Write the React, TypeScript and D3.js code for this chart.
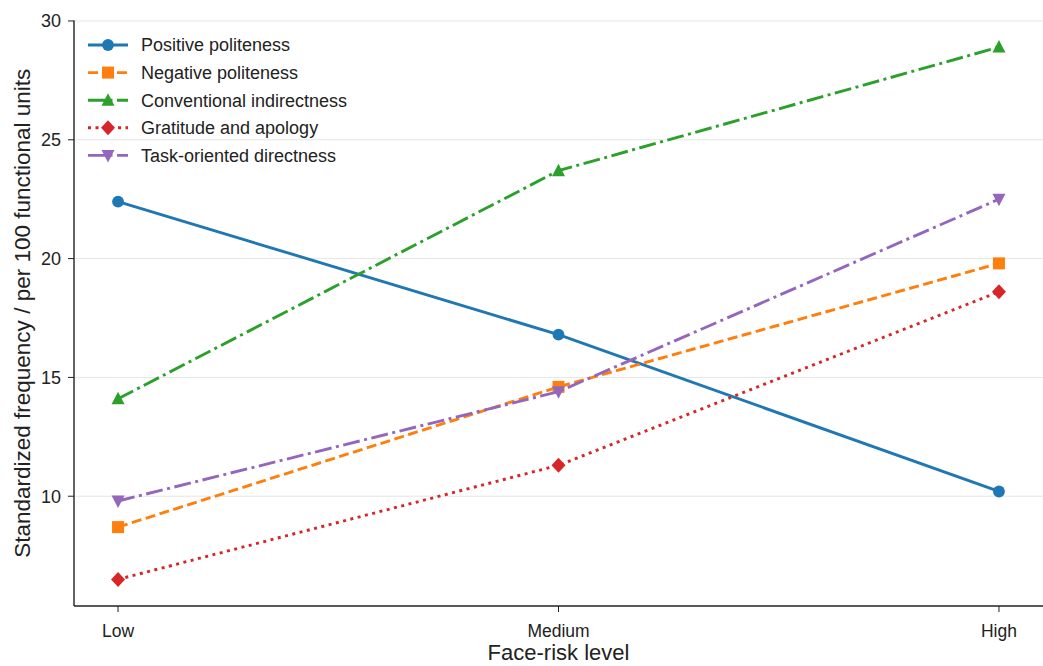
import React from 'react';
import * as d3 from 'd3';

const levels = ['Low', 'Medium', 'High'];
const positive = [22.4, 16.8, 10.2];
const negative = [8.7, 14.6, 19.8];
const conventional = [14.1, 23.7, 28.9];
const gratitude = [6.5, 11.3, 18.6];
const task = [9.8, 14.4, 22.5];
const yTicks = [10, 15, 20, 25, 30];

const series = [
  { name: 'Positive politeness', values: positive, color: '#1f77b4', dash: '', marker: 'circle' },
  { name: 'Negative politeness', values: negative, color: '#ff7f0e', dash: '10,4.5', marker: 'square' },
  { name: 'Conventional indirectness', values: conventional, color: '#2ca02c', dash: '17,4.5,3,4.5', marker: 'triangle' },
  { name: 'Gratitude and apology', values: gratitude, color: '#d62728', dash: '3,4.5', marker: 'diamond' },
  { name: 'Task-oriented directness', values: task, color: '#9467bd', dash: '17,4.5,3,4.5', marker: 'triangleDown' },
];

const W = 1043;
const H = 666;
const left = 74;
const right = 1043;
const top = 20.5;
const bottom = 606;

// marker shape at (0,0)
const markerPath = (type: string) => {
  if (type === 'circle') return d3.symbol(d3.symbolCircle, 110)();
  if (type === 'square') return 'M-6,-6H6V6H-6Z';
  if (type === 'triangle') return 'M0,-7L6.5,5.5L-6.5,5.5Z';
  if (type === 'triangleDown') return 'M0,7L6.5,-5.5L-6.5,-5.5Z';
  return 'M0,-7.5L7,0L0,7.5L-7,0Z';
};

const App = () => {
  const allVals = series.flatMap(s => s.values);
  const lo = d3.min(allVals)!;
  const hi = d3.max(allVals)!;
  const pad = (hi - lo) * 0.05;
  const y = d3.scaleLinear().domain([lo - pad, hi + pad]).range([bottom, top]);
  const xIdx = d3.scaleLinear().domain([-0.1, 2.1]).range([left, right]);
  const x = (i: number) => xIdx(i);

  const line = d3.line<number>()
    .x((d, i) => x(i))
    .y(d => y(d));

  const font = 'Liberation Sans, Arial, sans-serif';

  return (
    <svg width={W} height={H} style={{ display: 'block', position: 'absolute', left: 0, top: 0 }} fontFamily={font}>
      <rect width={W} height={H} fill="white" />
      {/* grid */}
      {yTicks.map(t => (
        <line key={t} x1={left} x2={right} y1={y(t)} y2={y(t)} stroke="#e6e6e6" strokeWidth={1} />
      ))}
      {/* series */}
      {series.map(s => (
        <g key={s.name}>
          <path d={line(s.values) || ''} fill="none" stroke={s.color} strokeWidth={2.9}
            strokeDasharray={s.dash || undefined} />
          {s.values.map((v, i) => (
            <path key={i} d={markerPath(s.marker) || ''} transform={`translate(${x(i)},${y(v)})`} fill={s.color} />
          ))}
        </g>
      ))}
      {/* axes */}
      <line x1={left} x2={left} y1={top} y2={bottom} stroke="#222" strokeWidth={1.4} />
      <line x1={left} x2={right} y1={bottom} y2={bottom} stroke="#222" strokeWidth={1.4} />
      {yTicks.map(t => (
        <g key={t}>
          <line x1={left - 6} x2={left} y1={y(t)} y2={y(t)} stroke="#222" strokeWidth={1} />
          <text x={left - 13} y={y(t)} dy="0.35em" textAnchor="end" fontSize={18} fill="#222">{t}</text>
        </g>
      ))}
      {levels.map((l, i) => (
        <g key={l}>
          <line x1={x(i)} x2={x(i)} y1={bottom} y2={bottom + 6} stroke="#222" strokeWidth={1} />
          <text x={x(i)} y={bottom + 31} textAnchor="middle" fontSize={17.5} fill="#222">{l}</text>
        </g>
      ))}
      <text x={x(1)} y={660} textAnchor="middle" fontSize={22} fill="#222">Face-risk level</text>
      <text transform={`translate(30,${(top + bottom) / 2}) rotate(-90)`} textAnchor="middle" fontSize={22.5} fill="#222">
        Standardized frequency / per 100 functional units
      </text>
      {/* legend */}
      {series.map((s, i) => {
        const ly = 45 + i * 27.6;
        return (
          <g key={s.name}>
            <line x1={88} x2={128} y1={ly} y2={ly} stroke={s.color} strokeWidth={2.9}
              strokeDasharray={s.dash || undefined} />
            <path d={markerPath(s.marker) || ''} transform={`translate(108,${ly})`} fill={s.color} />
            <text x={141} y={ly} dy="0.35em" fontSize={18} fill="#222">{s.name}</text>
          </g>
        );
      })}
    </svg>
  );
};

export default App;
